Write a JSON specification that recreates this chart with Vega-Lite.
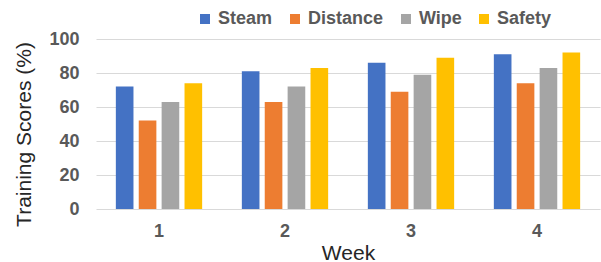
{
  "$schema": "https://vega.github.io/schema/vega-lite/v6.json",
  "autosize": "none",
  "width": 504,
  "height": 170,
  "padding": {"left": 96, "top": 39, "right": 1, "bottom": 53},
  "background": "white",
  "config": {
    "view": {"stroke": null},
    "font": "Liberation Sans"
  },
  "data": {
    "values": [
      {"week": "1", "series": "Steam", "score": 72},
      {"week": "1", "series": "Distance", "score": 52},
      {"week": "1", "series": "Wipe", "score": 63},
      {"week": "1", "series": "Safety", "score": 74},
      {"week": "2", "series": "Steam", "score": 81},
      {"week": "2", "series": "Distance", "score": 63},
      {"week": "2", "series": "Wipe", "score": 72},
      {"week": "2", "series": "Safety", "score": 83},
      {"week": "3", "series": "Steam", "score": 86},
      {"week": "3", "series": "Distance", "score": 69},
      {"week": "3", "series": "Wipe", "score": 79},
      {"week": "3", "series": "Safety", "score": 89},
      {"week": "4", "series": "Steam", "score": 91},
      {"week": "4", "series": "Distance", "score": 74},
      {"week": "4", "series": "Wipe", "score": 83},
      {"week": "4", "series": "Safety", "score": 92}
    ]
  },
  "mark": {"type": "bar"},
  "encoding": {
    "x": {
      "field": "week",
      "type": "nominal",
      "scale": {"paddingInner": 0.315, "paddingOuter": 0.1575},
      "axis": {
        "title": "Week",
        "labelAngle": 0,
        "labelFontSize": 18,
        "labelFontWeight": "bold",
        "labelColor": "#595959",
        "labelPadding": 13,
        "ticks": false,
        "tickSize": 0,
        "domain": false,
        "titleFontSize": 21,
        "titleFontWeight": "normal",
        "titleColor": "#262626",
        "titlePadding": 2
      }
    },
    "xOffset": {
      "field": "series",
      "type": "nominal",
      "sort": ["Steam", "Distance", "Wipe", "Safety"],
      "scale": {"paddingInner": 0.23, "paddingOuter": 0}
    },
    "y": {
      "field": "score",
      "type": "quantitative",
      "scale": {"domain": [0, 100]},
      "axis": {
        "title": "Training Scores (%)",
        "values": [0, 20, 40, 60, 80, 100],
        "labelFontSize": 18,
        "labelFontWeight": "bold",
        "labelColor": "#595959",
        "labelPadding": 17,
        "ticks": false,
        "tickSize": 0,
        "domain": false,
        "grid": true,
        "gridColor": "#D9D9D9",
        "gridWidth": 1,
        "titleFontSize": 21,
        "titleFontWeight": "normal",
        "titleColor": "#262626",
        "titleX": -72,
        "titleY": 95,
        "titleAngle": -90,
        "titleAlign": "center",
        "titleBaseline": "middle"
      }
    },
    "color": {
      "field": "series",
      "type": "nominal",
      "sort": ["Steam", "Distance", "Wipe", "Safety"],
      "scale": {
        "domain": ["Steam", "Distance", "Wipe", "Safety"],
        "range": ["#4472C4", "#ED7D31", "#A5A5A5", "#FFC000"]
      },
      "legend": {
        "title": null,
        "orient": "none",
        "direction": "horizontal",
        "legendX": 100,
        "legendY": -29,
        "padding": 0,
        "symbolType": "square",
        "symbolSize": 100,
        "symbolStrokeWidth": 0,
        "labelFontSize": 18,
        "labelFontWeight": "bold",
        "labelColor": "#595959",
        "labelOffset": 4,
        "columnPadding": 13
      }
    }
  }
}
